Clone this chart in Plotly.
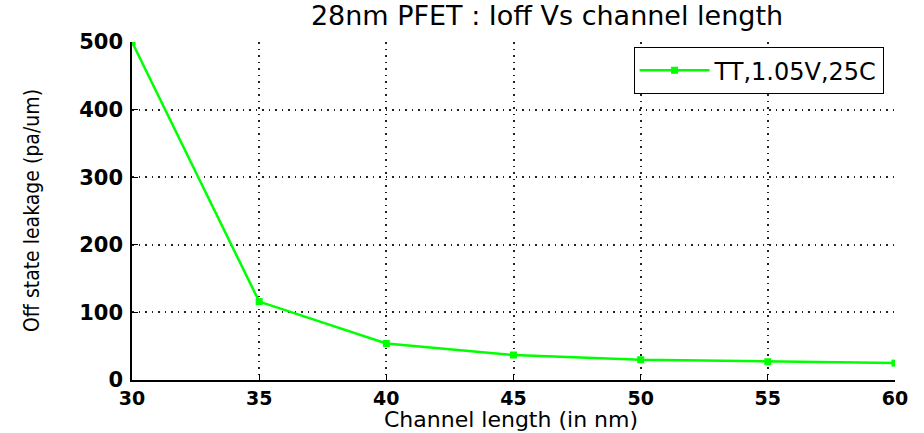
import plotly.graph_objects as go

channel_length = [30, 35, 40, 45, 50, 55, 60]
leakage = [500, 116, 54, 37, 30, 27, 25]
series_name = "TT,1.05V,25C"
x_ticks = [30, 35, 40, 45, 50, 55, 60]
y_ticks = [0, 100, 200, 300, 400, 500]
x_title = "Channel length (in nm)"
y_title = "Off state leakage (pa/um)"

fig = go.Figure()
fig.add_trace(go.Scatter(
    x=channel_length, y=leakage, mode="lines+markers", name=series_name,
    line=dict(color="#00FF00", width=2.5),
    marker=dict(symbol="square", size=7, color="#00FF00"),
))

font = "DejaVu Sans, Verdana, sans-serif"
grid = dict(showgrid=True, gridcolor="#222222", griddash="1.5px,5px", gridwidth=1.5,
            zeroline=False, showline=True, linecolor="black", linewidth=1.5,
            ticks="inside", ticklen=6, tickcolor="black", mirror=False,
            automargin=False)

fig.update_layout(
    width=924, height=433,
    paper_bgcolor="white", plot_bgcolor="white",
    margin=dict(l=132, r=29, t=42, b=53),
    title=dict(text="28nm PFET : Ioff Vs channel length", x=0.592, xanchor="center",
               y=0.985, yanchor="top",
               font=dict(family=font, size=27, color="black")),
    xaxis=dict(range=[30, 60], tickvals=x_ticks,
               tickfont=dict(family=font, size=19, color="black", weight="bold"), **grid),
    yaxis=dict(range=[0, 500], tickvals=y_ticks, ticklabelstandoff=3,
               tickfont=dict(family=font, size=21, color="black", weight="bold"), **grid),
    legend=dict(x=0.985, y=0.985, xanchor="right", yanchor="top",
                bordercolor="black", borderwidth=1, bgcolor="white",
                itemwidth=70,
                font=dict(family=font, size=24, color="black")),
    showlegend=True,
    annotations=[
        dict(text=x_title, xref="paper", yref="paper", x=(511 - 132) / 763, y=0,
             yshift=-39, xanchor="center", yanchor="middle", showarrow=False,
             borderpad=0,
             font=dict(family=font, size=22, color="black")),
        dict(text=y_title, xref="paper", yref="paper", x=0, y=0.5,
             xshift=-100, xanchor="center", yanchor="middle", showarrow=False,
             textangle=-90,
             font=dict(family="DejaVu Sans Condensed, Liberation Sans Narrow, sans-serif",
                       size=21, color="black")),
    ],
)

fig.write_html("out.html")
